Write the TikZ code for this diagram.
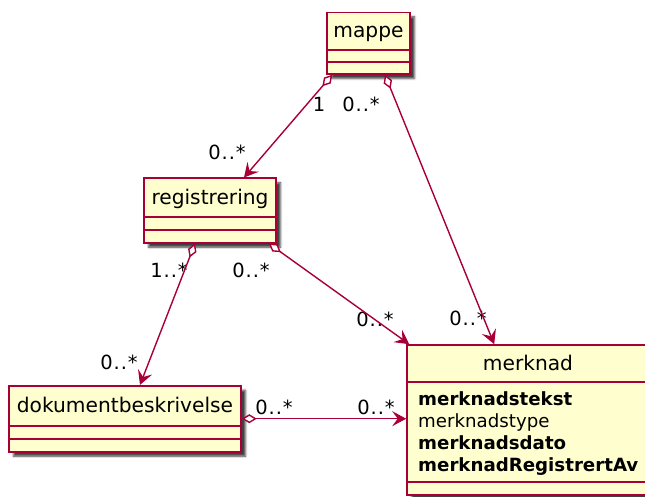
\documentclass[tikz,border=0pt]{standalone}
\usepackage{fontspec}
\setmainfont{DejaVu Sans}
\newfontfamily\multfont[LetterSpace=5]{DejaVu Sans}
\usepackage{tikz}
\usetikzlibrary{arrows.meta,shadows.blur}
\definecolor{umlred}{HTML}{A80036}
\definecolor{umlyellow}{HTML}{FEFECE}

\begin{document}
\begin{tikzpicture}[x=1pt,y=-1pt,
    cls/.style={draw=umlred,fill=umlyellow,line width=1.6pt,inner sep=0pt,
      blur shadow={shadow xshift=4.5pt,shadow yshift=-4.5pt,shadow blur radius=2pt,shadow opacity=75}},
    clsname/.style={font=\fontsize{20.2}{24}\selectfont,text height=18.7pt,text depth=4.8pt,inner sep=0pt},
    attr/.style={font=\fontsize{18.2}{22}\selectfont,align=left,inner sep=0pt},
    sep/.style={umlred,line width=1.5pt},
    mult/.style={font=\multfont\fontsize{19.5}{22}\selectfont,inner sep=0pt},
    assoc/.style={umlred,line width=1.4pt,
      {Diamond[fill=white,length=15pt,width=9pt]}-{Stealth[length=14pt,width=15pt,inset=5.5pt]}}]
    \useasboundingbox (0,0) rectangle (645,497);

    % classes
    \node[cls,minimum width=83,minimum height=61.7] (mappe) at (368.5,43.2) {};
    \node[clsname] (mappe-t) at ([yshift=-19.2]mappe.north) {mappe};
    \draw[sep] ([yshift=-38.4]mappe.north west) -- ([yshift=-38.4]mappe.north east);
    \draw[sep] ([yshift=-50.4]mappe.north west) -- ([yshift=-50.4]mappe.north east);

    \node[cls,minimum width=132,minimum height=64.4] (registrering) at (210,210.5) {};
    \node[clsname] (registrering-t) at ([yshift=-19.7]registrering.north) {registrering};
    \draw[sep] ([yshift=-39.4]registrering.north west) -- ([yshift=-39.4]registrering.north east);
    \draw[sep] ([yshift=-52.7]registrering.north west) -- ([yshift=-52.7]registrering.north east);

    \node[cls,minimum width=232,minimum height=66] (dokument) at (125,418.7) {};
    \node[clsname] (dokument-t) at ([yshift=-20.5]dokument.north) {dokumentbeskrivelse};
    \draw[sep] ([yshift=-41]dokument.north west) -- ([yshift=-41]dokument.north east);
    \draw[sep] ([yshift=-54.3]dokument.north west) -- ([yshift=-54.3]dokument.north east);

    \node[cls,minimum width=242,minimum height=150] (merknad) at (528,420) {};
    \node[clsname] (merknad-t) at ([yshift=-19]merknad.north) {merknad};
    \draw[sep] ([yshift=-38]merknad.north west) -- ([yshift=-38]merknad.north east);
    \draw[sep] ([yshift=-138]merknad.north west) -- ([yshift=-138]merknad.north east);
    \node[attr,anchor=north west] (merknad-a) at (418,391)
      {\textbf{merknadstekst}\\merknadstype\\\textbf{merknadsdato}\\\textbf{merknadRegistrertAv}};

    % multiplicities
    \node[mult] (m-mappe-reg) at (319,104) {1};
    \node[mult] (m-mappe-merk) at (361,104) {0..*};
    \node[mult] (m-reg-top) at (227,152) {0..*};
    \node[mult] (m-reg-dok) at (169,270) {1..*};
    \node[mult] (m-reg-merk) at (251,270) {0..*};
    \node[mult] (m-dok-top) at (119,362) {0..*};
    \node[mult] (m-dok-merk) at (274,407) {0..*};
    \node[mult] (m-merk-dok) at (376,407) {0..*};
    \node[mult] (m-merk-reg) at (375,319) {0..*};
    \node[mult] (m-merk-mappe) at (468,318.5) {0..*};

    \path[assoc]
    ([xshift=6]mappe.south west) edge ([xshift=34]registrering.north)
    ([xshift=16.5]mappe.south) edge ([xshift=88]merknad.north west)
    ([xshift=-15]registrering.south) edge ([xshift=15]dokument.north)
    ([xshift=-8]registrering.south east) edge ([xshift=3]merknad.north west)
    (dokument.east) edge (merknad.west |- dokument.east)
    ;
\end{tikzpicture}
\end{document}
